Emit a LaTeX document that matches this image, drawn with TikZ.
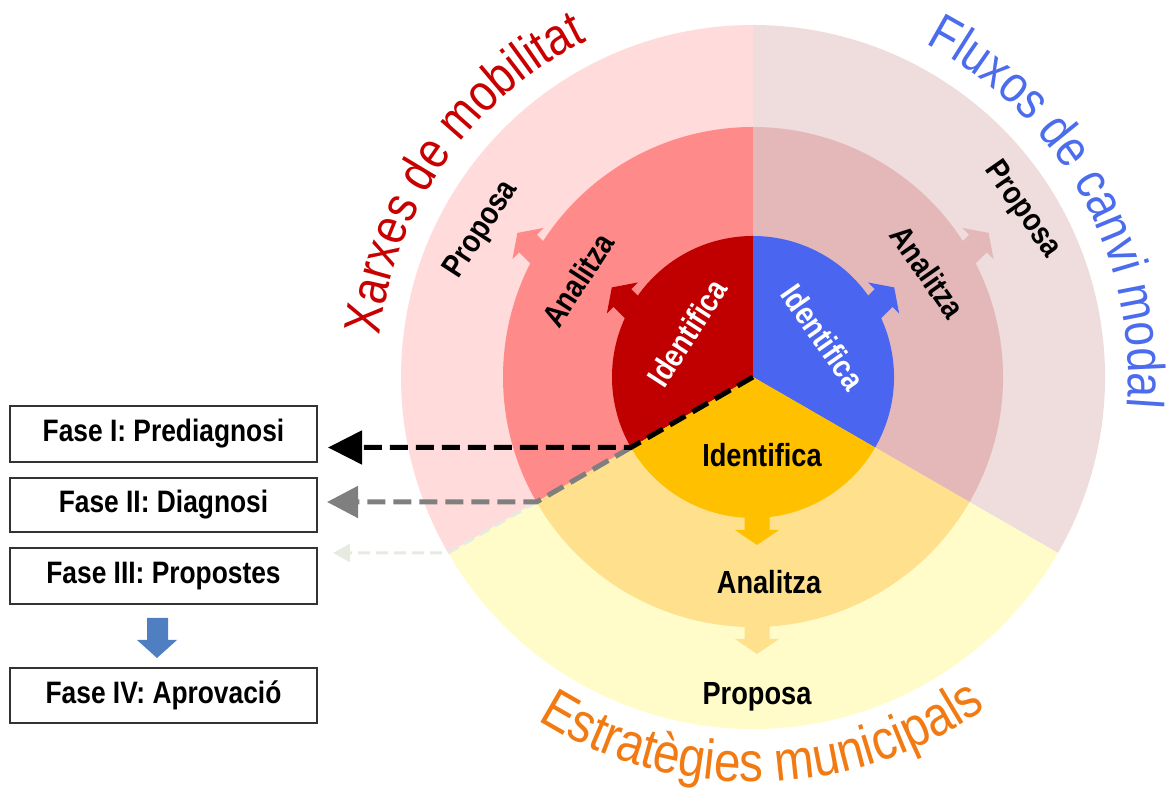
\documentclass[tikz,border=0pt]{standalone}
\usepackage{fontspec}
\setmainfont{Liberation Sans}
\newfontfamily\titlefam{Liberation Sans}[FakeStretch=0.85]
\newfontfamily\lblfam{Liberation Sans Bold}[FakeStretch=0.85]
\usetikzlibrary{arrows.meta,decorations.text,calc}
\definecolor{redI}{HTML}{C00000}
\definecolor{redM}{HTML}{FF8A8A}
\definecolor{redO}{HTML}{FFDBDB}
\definecolor{bluI}{HTML}{4A66F0}
\definecolor{bluM}{HTML}{E4B8B8}
\definecolor{bluO}{HTML}{EFDCDC}
\definecolor{yelI}{HTML}{FFC000}
\definecolor{yelM}{HTML}{FFE08C}
\definecolor{yelO}{HTML}{FFFCC9}
\definecolor{titred}{HTML}{C80000}
\definecolor{titblue}{HTML}{4C6CEE}
\definecolor{titorange}{HTML}{F27A12}
\definecolor{dashgray}{HTML}{7F7F7F}
\definecolor{dashlight}{HTML}{E6EAE0}
\definecolor{phasearrow}{HTML}{4F7FC0}
\newcommand\titlefont{\titlefam\fontsize{52}{60}\selectfont}
\newcommand\titlefontb{\titlefam\fontsize{56}{64}\selectfont}
\newcommand\blockarr[3]{% color, base point, direction
  \fill[#1, shift={#2}, rotate=#3] (-16,-12.5) -- (12,-12.5) -- (12,-22) -- (27,0) -- (12,22) -- (12,12.5) -- (-16,12.5) -- cycle;}
\begin{document}
\begin{tikzpicture}[x=1pt,y=1pt,
  lbl/.style={inner sep=0pt, font=\lblfam\fontsize{32}{36}\selectfont},
  box/.style={draw=black!80, line width=1.5pt, fill=white, minimum width=307pt, inner sep=0pt, font=\lblfam\fontsize{31}{34}\selectfont},
  dashA/.style={line width=5pt, dash pattern=on 18pt off 8pt},
]
\useasboundingbox (0,0) rectangle (1176,792);
\coordinate (C) at (753,415);
% outer ring
\fill[redO, shift={(C)}] (0,0) -- (90:352) arc[start angle=90, end angle=210, radius=352] -- cycle;
\fill[bluO, shift={(C)}] (0,0) -- (-30:352) arc[start angle=-30, end angle=90, radius=352] -- cycle;
\fill[yelO, shift={(C)}] (0,0) -- (210:352) arc[start angle=210, end angle=330, radius=352] -- cycle;
% middle ring
\fill[redM, shift={(C)}] (0,0) -- (90:250) arc[start angle=90, end angle=210, radius=250] -- cycle;
\fill[bluM, shift={(C)}] (0,0) -- (-30:250) arc[start angle=-30, end angle=90, radius=250] -- cycle;
\fill[yelM, shift={(C)}] (0,0) -- (210:250) arc[start angle=210, end angle=330, radius=250] -- cycle;
% outer arrows
\blockarr{redM}{($(C)+(150:250)$)}{135}
\blockarr{bluM}{($(C)+(30:250)$)}{45}
\blockarr{yelM}{($(C)+(4,0)+(270:250)$)}{270}
% inner circle
\fill[redI, shift={(C)}] (0,0) -- (90:141) arc[start angle=90, end angle=210, radius=141] -- cycle;
\fill[bluI, shift={(C)}] (0,0) -- (-30:141) arc[start angle=-30, end angle=90, radius=141] -- cycle;
\fill[yelI, shift={(C)}] (0,0) -- (210:141) arc[start angle=210, end angle=330, radius=141] -- cycle;
% inner arrows
\blockarr{redI}{($(C)+(150:141)$)}{135}
\blockarr{bluI}{($(C)+(30:141)$)}{45}
\blockarr{yelI}{($(C)+(4,0)+(270:141)$)}{270}
% labels
\node[lbl, white, rotate=57] (ri) at (687,459) {Identifica};
\node[lbl, white, rotate=-55] (bi) at (823,455) {Identifica};
\node[lbl] (yi) at (762,337) {Identifica};
\node[lbl, rotate=57] (ra) at (578,512) {Analitza};
\node[lbl, rotate=-55] (ba) at (928,520) {Analitza};
\node[lbl] (ya) at (769,210) {Analitza};
\node[lbl, rotate=57] (rp) at (482,562) {Proposa};
\node[lbl, rotate=-55] (bp) at (1022,582) {Proposa};
\node[lbl] (yp) at (757,95) {Proposa};
% titles along arcs
\path[shift={(C)}, decorate, decoration={text along path, text align=center, text color=titred,
  text={|\titlefont|Xarxes de mobilitat}}] (190:375) arc[start angle=190, end angle=100, radius=375];
\path[shift={(C)}, decorate, decoration={text along path, text align=center, text color=titblue,
  text={|\titlefont|Fluxos de canvi modal}}] (75:375) arc[start angle=75, end angle=-17, radius=375];
\path[shift={(C)}, decorate, decoration={text along path, text align=center, text color=titorange,
  text={|\titlefontb|Estratègies municipals}}] (225:405) arc[start angle=225, end angle=318, radius=405];
% phase boxes
\node[box, minimum height=56pt] (f1) at (163.5,358) {Fase I: Prediagnosi};
\node[box, minimum height=54pt] (f2) at (163.5,287) {Fase II: Diagnosi};
\node[box, minimum height=56pt] (f3) at (163.5,216) {Fase III: Propostes};
\node[box, minimum height=55pt] (f4) at (163.5,96.5) {Fase IV: Aprovació};
% phase arrow
\fill[phasearrow] (147,174) -- (168,174) -- (168,152) -- (177,152) -- (157,134) -- (137,152) -- (147,152) -- cycle;
% dashed connectors
\coordinate (p1) at ($(C)+(210:141)$);
\coordinate (p2) at ($(C)+(210:250)$);
\coordinate (p3) at ($(C)+(210:352)$);
\coordinate (e1) at (328,344.5);
\coordinate (e2) at (327,290);
\coordinate (e3) at (333,239);
\draw[dashlight, line width=3pt, dash pattern=on 12pt off 6pt, -{Triangle[length=17pt,width=18pt]}] (p2) -- (p3) -- (e3);
\draw[dashgray, dashA, -{Triangle[length=31pt,width=31pt]}] (p1) -- (p2) -- (e2);
\draw[black, dashA, -{Triangle[length=34pt,width=33pt]}] (C) -- (p1) -- (e1);
\end{tikzpicture}
\end{document}
